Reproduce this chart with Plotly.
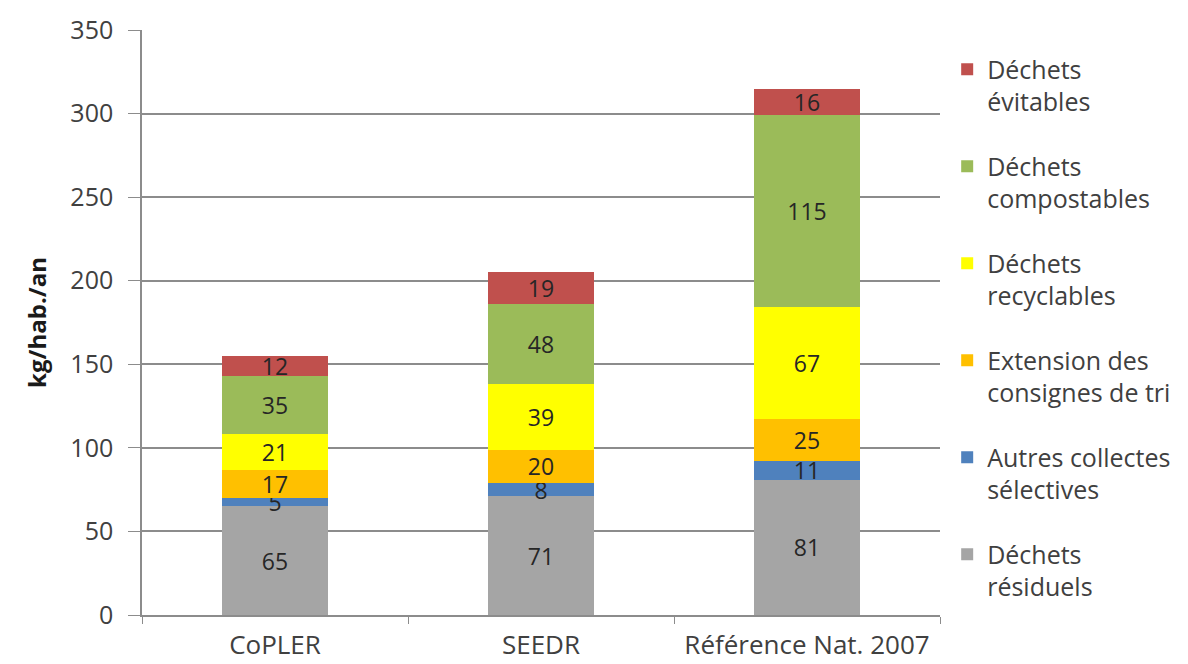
import plotly.graph_objects as go

categories = ["CoPLER", "SEEDR", "Référence Nat. 2007"]
series_names = [
    "Déchets<br>résiduels",
    "Autres collectes<br>sélectives",
    "Extension des<br>consignes de tri",
    "Déchets<br>recyclables",
    "Déchets<br>compostables",
    "Déchets<br>évitables",
]
residuels = [65, 71, 81]
autres = [5, 8, 11]
extension = [17, 20, 25]
recyclables = [21, 39, 67]
compostables = [35, 48, 115]
evitables = [12, 19, 16]
series_values = [residuels, autres, extension, recyclables, compostables, evitables]
colors = ["#A5A5A5", "#4F81BD", "#FFC000", "#FFFF00", "#9BBB59", "#C0504D"]
y_ticks = [0, 50, 100, 150, 200, 250, 300, 350]

FONT = "'Open Sans', sans-serif"

fig = go.Figure()
n = len(series_names)
for i, (name, vals, col) in enumerate(zip(series_names, series_values, colors)):
    fig.add_trace(go.Bar(
        x=categories, y=vals, name=name,
        marker=dict(color=col, line=dict(width=0)),
        text=[str(v) for v in vals],
        textposition="inside",
        insidetextanchor="middle",
        constraintext="none",
        textangle=0,
        textfont=dict(family=FONT, size=23, color="#262626"),
        legendgroup=f"g{i}",
        legendrank=n - i,
    ))

fig.update_layout(
    barmode="stack",
    bargap=0.6,
    width=1188, height=664,
    margin=dict(l=142, r=248, t=30, b=49),
    plot_bgcolor="white", paper_bgcolor="white",
    font=dict(family=FONT, size=24, color="#404040"),
    showlegend=True,
    legend=dict(
        x=1.009, xanchor="left", y=0.972, yanchor="top",
        traceorder="grouped",
        tracegroupgap=29,
        valign="top",
        font=dict(family=FONT, size=25, color="#404040"),
        itemwidth=30,
    ),
    xaxis=dict(
        showline=True, linecolor="#8c8c8c", linewidth=1.5,
        ticks="outside", tickson="boundaries", ticklen=7, tickcolor="#8c8c8c",
        ticklabelstandoff=6,
        tickfont=dict(family=FONT, size=26, color="#404040"),
        showgrid=False, automargin=False,
    ),
    yaxis=dict(
        range=[0, 350], tickvals=y_ticks,
        showline=True, linecolor="#8c8c8c", linewidth=1.5,
        ticks="outside", ticklen=12, tickcolor="#8c8c8c",
        ticklabelstandoff=10,
        showgrid=True, gridcolor="#8c8c8c", gridwidth=1.5,
        zeroline=False, automargin=False,
        tickfont=dict(family=FONT, size=25, color="#404040"),
        title=dict(text="<b>kg/hab./an</b>", font=dict(family=FONT, size=24, color="#1a1a1a"), standoff=17),
    ),
)

fig.write_html("out.html")
